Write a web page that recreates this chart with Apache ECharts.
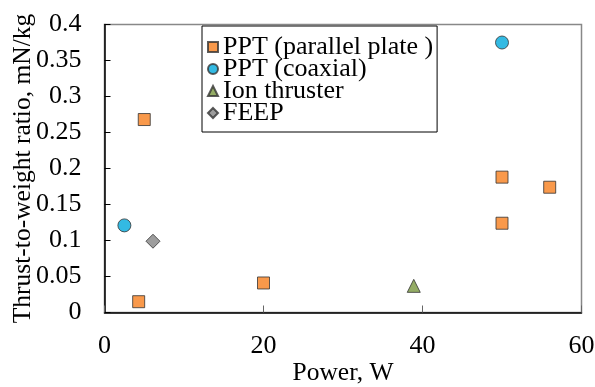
<!DOCTYPE html>
<html><head><meta charset="utf-8">
<script src="https://cdn.jsdelivr.net/npm/echarts@6/dist/echarts.min.js"></script>
<style>html,body{margin:0;padding:0;background:#fff}#c{width:595px;height:387px}</style>
</head><body><div id="c"></div>
<script>
const seriesNames = ['PPT (parallel plate )', 'PPT (coaxial)', 'Ion thruster', 'FEEP'];
const pptParallel = [[5, 0.268], [4.3, 0.015], [20, 0.041], [50, 0.124], [50, 0.188], [56, 0.174]];
const pptCoaxial = [[50, 0.375], [2.5, 0.121]];
const ionThruster = [[38.9, 0.037]];
const feep = [[6.1, 0.099]];
const xTicks = [0, 20, 40, 60];
const yTicks = [0, 0.05, 0.1, 0.15, 0.2, 0.25, 0.3, 0.35, 0.4];

const font = 'Liberation Serif';
const chart = echarts.init(document.getElementById('c'), null, {renderer: 'canvas'});
const mk = (name, data, symbol, size, color) => ({
  name, type: 'scatter', data, symbol, symbolSize: size,
  itemStyle: {color, borderColor: '#333', borderWidth: 1}
});
chart.setOption({
  animation: false,
  backgroundColor: '#fff',
  grid: {left: 104.5, right: 13.5, top: 24.5, bottom: 74.5, show: true, borderColor: '#888', borderWidth: 1.5,
    outerBoundsMode: 'none', containLabel: false},
  legend: {
    orient: 'vertical', left: 202, top: 26,
    data: seriesNames,
    backgroundColor: '#fff', borderColor: '#000', borderWidth: 1,
    padding: [8, 4, 6, 5], itemGap: -4, itemWidth: 10, itemHeight: 10,
    textStyle: {fontFamily: font, fontSize: 26, color: '#000', lineHeight: 21.5}
  },
  xAxis: {
    type: 'value', min: 0, max: 60, interval: 20,
    name: 'Power, W', nameLocation: 'middle', nameGap: 48, nameMoveOverlap: false,
    nameTextStyle: {fontFamily: font, fontSize: 25.5, color: '#000'},
    axisLine: {show: true, lineStyle: {color: '#000', width: 1.5}},
    axisTick: {show: true, inside: true, length: 7, lineStyle: {color: '#666'}},
    axisLabel: {fontFamily: font, fontSize: 26, color: '#000', margin: 21,
      formatter: v => xTicks.includes(v) ? String(v) : ''},
    splitLine: {show: false}
  },
  yAxis: {
    type: 'value', min: 0, max: 0.4, interval: 0.05,
    name: 'Thrust-to-weight ratio, mN/kg', nameLocation: 'middle', nameGap: 68, nameMoveOverlap: false,
    nameTextStyle: {fontFamily: font, fontSize: 25.5, color: '#000'},
    axisLine: {show: true, lineStyle: {color: '#000', width: 1.5}},
    axisTick: {show: true, inside: true, length: 6, lineStyle: {color: '#000'}},
    axisLabel: {fontFamily: font, fontSize: 26, color: '#000', margin: 23,
      formatter: v => { const t = yTicks.find(x => Math.abs(x - v) < 1e-9); return t === undefined ? '' : String(t); }},
    splitLine: {show: false}
  },
  series: [
    mk(seriesNames[0], pptParallel, 'rect', 12, '#f7801e'),
    mk(seriesNames[1], pptCoaxial, 'circle', 13, '#00a9dc'),
    mk(seriesNames[2], ionThruster, 'triangle', 13, '#79973f'),
    mk(seriesNames[3], feep, 'diamond', 14, '#858585')
  ]
});
</script></body></html>
